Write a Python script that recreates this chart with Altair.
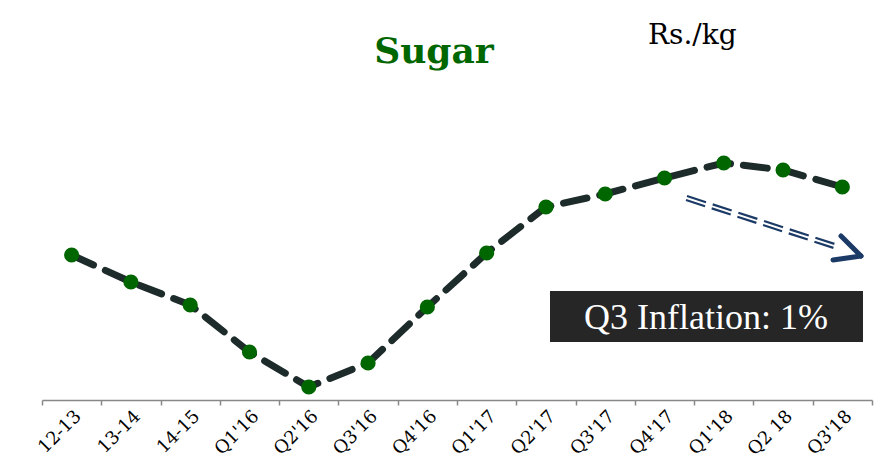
import altair as alt
import pandas as pd

periods = ["12-13", "13-14", "14-15", "Q1'16", "Q2'16", "Q3'16", "Q4'16",
           "Q1'17", "Q2'17", "Q3'17", "Q4'17", "Q1'18", "Q2 18", "Q3'18"]
prices = [52.25, 50.9, 49.75, 47.4, 45.65, 46.85, 49.65,
          52.35, 54.65, 55.3, 56.1, 56.85, 56.5, 55.65]

df = pd.DataFrame({"period": periods, "price": prices})

W, H = 830, 300
one = alt.Data(values=[{}])

xenc = alt.X("period:N", sort=periods, title=None,
             scale=alt.Scale(paddingInner=0, paddingOuter=0),
             axis=alt.Axis(labelAngle=-45, labelFont="DejaVu Serif", labelFontSize=18,
                           labelColor="#000000", domainColor="#888888", tickColor="#888888",
                           tickSize=5, tickBand="extent", labelPadding=2, grid=False,
                           domainWidth=1.5, tickWidth=1.5))
yenc = alt.Y("price:Q", axis=None, scale=alt.Scale(domain=[45, 60], zero=False))

line = alt.Chart(df).mark_line(color="#1e2b2b", strokeWidth=7, strokeDash=[24, 13],
                               strokeCap="round").encode(x=xenc, y=yenc)
pts = alt.Chart(df).mark_circle(color="#006600", opacity=1, size=230).encode(x=xenc, y=yenc)

title = alt.Chart(one).mark_text(text="Sugar", font="DejaVu Serif", fontWeight="bold",
                                 fontSize=36, color="#006600", align="center",
                                 baseline="alphabetic").encode(x=alt.value(392), y=alt.value(-37))
unit = alt.Chart(one).mark_text(text="Rs./kg", font="DejaVu Serif", fontSize=28,
                                color="#000000", align="left",
                                baseline="alphabetic").encode(x=alt.value(606), y=alt.value(-56))
box = alt.Chart(one).mark_rect(color="#262626").encode(
    x=alt.value(508), x2=alt.value(821), y=alt.value(191), y2=alt.value(242))
boxtext = alt.Chart(one).mark_text(text="Q3 Inflation: 1%", font="Liberation Serif", fontSize=36,
                                   color="#ffffff", align="center",
                                   baseline="alphabetic").encode(x=alt.value(664), y=alt.value(229))

arrow_color = "#1b3a66"
a1 = alt.Chart(one).mark_rule(color=arrow_color, strokeWidth=2.2, strokeDash=[20, 7]).encode(
    x=alt.value(645), y=alt.value(96), x2=alt.value(799), y2=alt.value(146))
a2 = alt.Chart(one).mark_rule(color=arrow_color, strokeWidth=2.2, strokeDash=[20, 7]).encode(
    x=alt.value(644), y=alt.value(100), x2=alt.value(798), y2=alt.value(150))
h1 = alt.Chart(one).mark_rule(color=arrow_color, strokeWidth=5, strokeCap="round").encode(
    x=alt.value(799), y=alt.value(136), x2=alt.value(819), y2=alt.value(156))
h2 = alt.Chart(one).mark_rule(color=arrow_color, strokeWidth=5, strokeCap="round").encode(
    x=alt.value(791), y=alt.value(160), x2=alt.value(819), y2=alt.value(156))

chart = alt.layer(line, pts, title, unit, box, boxtext, a1, a2, h1, h2).properties(
    width=W, height=H,
    background="#ffffff",
    autosize=alt.AutoSizeParams(type="none"),
    padding={"left": 34, "top": 92, "right": 5, "bottom": 76},
).configure_view(strokeWidth=0, stroke="transparent")

chart.save("out.html", embed_options={"renderer": "svg", "actions": False})
